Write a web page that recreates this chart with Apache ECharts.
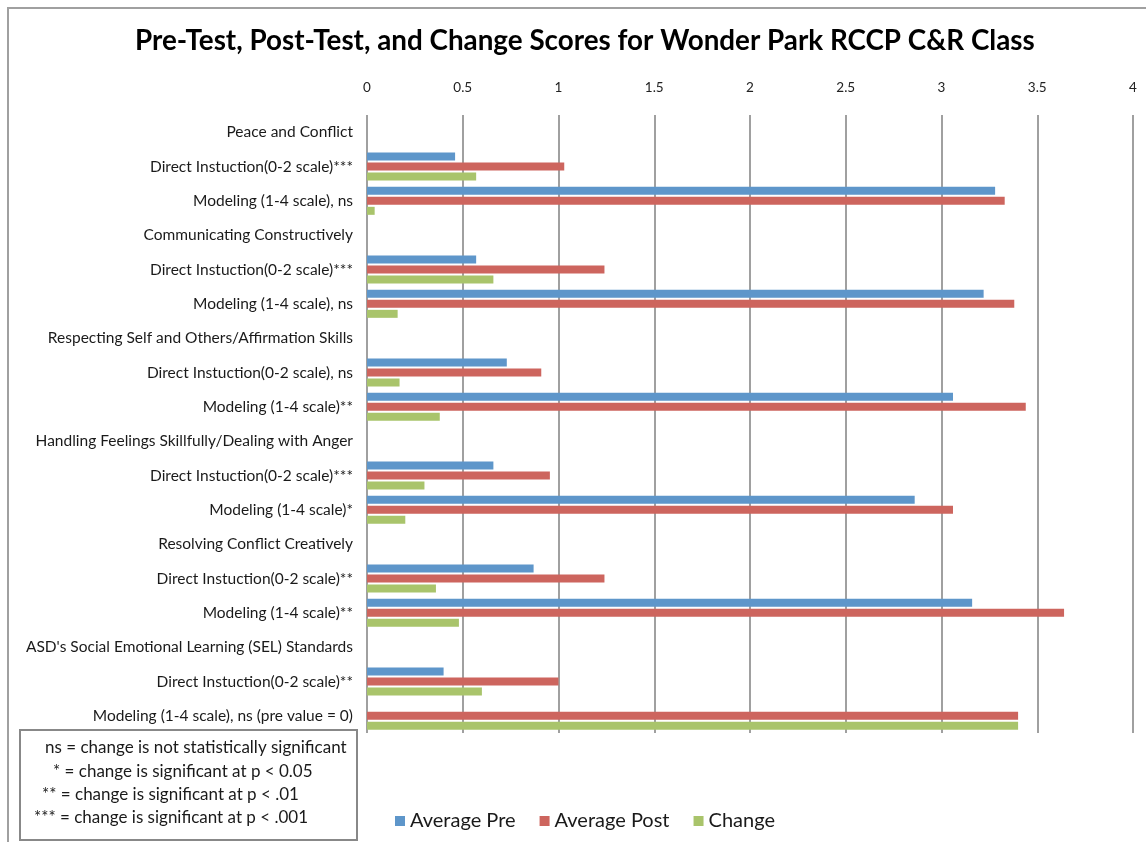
<!DOCTYPE html>
<html>
<head>
<meta charset="utf-8">
<script src="https://cdn.jsdelivr.net/npm/echarts@6/dist/echarts.min.js"></script>
<style>
html,body{margin:0;padding:0;background:#fff;}
#chart{width:1146px;height:842px;}
</style>
</head>
<body>
<div id="chart"></div>
<script>
const titleText = 'Pre-Test, Post-Test, and Change Scores for Wonder Park RCCP C&R Class';
const categories = [
  'Peace and Conflict',
  'Direct Instuction(0-2 scale)***',
  'Modeling (1-4 scale), ns',
  'Communicating Constructively',
  'Direct Instuction(0-2 scale)***',
  'Modeling (1-4 scale), ns',
  'Respecting Self and Others/Affirmation Skills',
  'Direct Instuction(0-2 scale), ns',
  'Modeling (1-4 scale)**',
  'Handling Feelings Skillfully/Dealing with Anger',
  'Direct Instuction(0-2 scale)***',
  'Modeling (1-4 scale)*',
  'Resolving Conflict Creatively',
  'Direct Instuction(0-2 scale)**',
  'Modeling (1-4 scale)**',
  "ASD's Social Emotional Learning (SEL) Standards",
  'Direct Instuction(0-2 scale)**',
  'Modeling (1-4 scale), ns (pre value = 0)'
];
const seriesNames = ['Average Pre', 'Average Post', 'Change'];
const averagePre  = [null, 0.46, 3.28, null, 0.57, 3.22, null, 0.73, 3.06, null, 0.66, 2.86, null, 0.87, 3.16, null, 0.40, 0];
const averagePost = [null, 1.03, 3.33, null, 1.24, 3.38, null, 0.91, 3.44, null, 0.955, 3.06, null, 1.24, 3.64, null, 1.00, 3.40];
const changeVals  = [null, 0.57, 0.04, null, 0.66, 0.16, null, 0.17, 0.38, null, 0.30, 0.20, null, 0.36, 0.48, null, 0.60, 3.40];
const xTickLabels = ['0', '0.5', '1', '1.5', '2', '2.5', '3', '3.5', '4'];
const footnotes = [
  'ns = change is not statistically significant',
  '* = change is significant at p < 0.05',
  '** = change is significant at p < .01',
  '*** = change is significant at p < .001'
];
const colors = ['#5e96ca', '#cd655e', '#a9c46b'];

const chart = echarts.init(document.getElementById('chart'));
const FONT = 'Lato, "Open Sans", sans-serif';
const values = [averagePre, averagePost, changeVals];

const footX = [45, 53, 42, 34];
const footY = [748, 772, 795, 818];

chart.setOption({
  animation: false,
  color: colors,
  title: {
    text: titleText,
    left: 135,
    top: 27,
    padding: 0,
    textStyle: { fontFamily: FONT, fontWeight: 'bold', fontSize: 27.8, color: '#000' }
  },
  legend: {
    data: seriesNames,
    left: 390,
    top: 806,
    icon: 'rect',
    itemWidth: 10,
    itemHeight: 10,
    itemGap: 24,
    textStyle: { fontFamily: FONT, fontSize: 20, color: '#1a1a1a' }
  },
  grid: { left: 367, right: 13, top: 115, bottom: 109, containLabel: false },
  xAxis: {
    type: 'value',
    position: 'top',
    min: 0,
    max: 4,
    interval: 0.5,
    axisLine: { show: false },
    axisTick: { show: false },
    axisLabel: {
      margin: 20,
      fontFamily: FONT,
      fontSize: 13.5,
      color: '#222',
      formatter: function (v) { return xTickLabels[Math.round(v / 0.5)]; }
    },
    splitLine: { show: true, lineStyle: { color: '#a0a0a0', width: 2 } }
  },
  yAxis: {
    type: 'category',
    inverse: true,
    data: categories,
    axisLine: { show: false },
    axisTick: { show: false },
    axisLabel: { margin: 14, fontFamily: FONT, fontSize: 15.5, color: '#1a1a1a' }
  },
  series: seriesNames.map(function (name, i) {
    return {
      name: name,
      type: 'bar',
      data: values[i],
      barWidth: 8,
      barGap: '25%',
      itemStyle: { color: colors[i] }
    };
  }),
  graphic: [
    {
      type: 'rect',
      shape: { x: 8, y: 8, width: 1160, height: 900 },
      style: { fill: 'none', stroke: '#a0a0a0', lineWidth: 2 },
      silent: true
    },
    {
      type: 'rect',
      shape: { x: 20, y: 730, width: 337, height: 110 },
      style: { fill: '#fff', stroke: '#888', lineWidth: 2 },
      silent: true
    }
  ].concat(footnotes.map(function (t, i) {
    return {
      type: 'text',
      x: footX[i],
      y: footY[i],
      style: { text: t, fontFamily: FONT, fontSize: 17, fill: '#1a1a1a', textVerticalAlign: 'middle', verticalAlign: 'middle' },
      silent: true
    };
  }))
});
</script>
</body>
</html>
